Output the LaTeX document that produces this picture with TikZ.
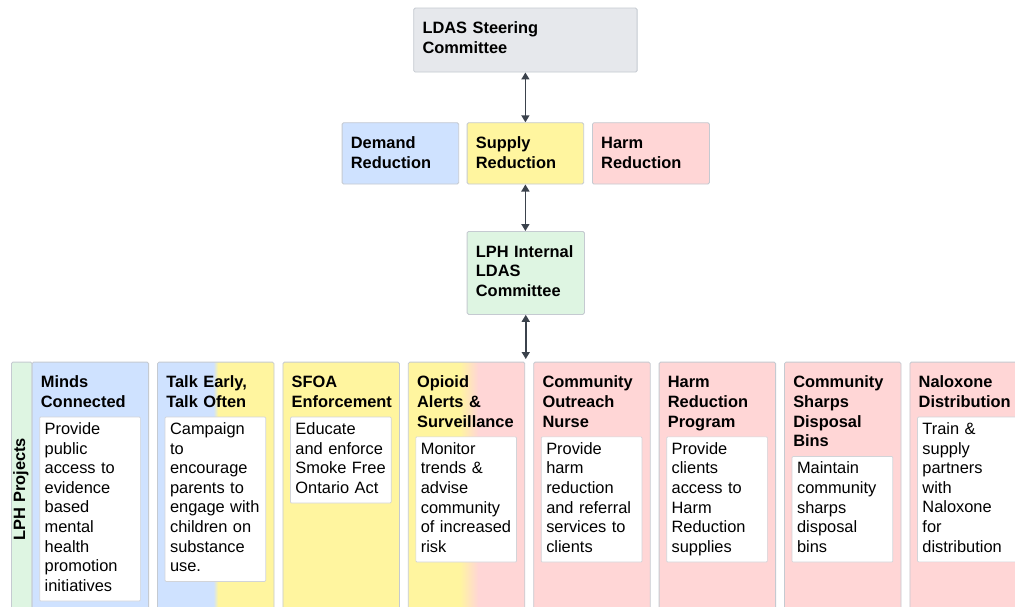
\documentclass[tikz,border=0pt]{standalone}
\usepackage{fontspec}
\setmainfont{Liberation Sans}
\usetikzlibrary{arrows.meta}
\definecolor{cgray}{HTML}{E6E8EC}
\definecolor{cblue}{HTML}{CFE2FF}
\definecolor{cyellow}{HTML}{FFF59F}
\definecolor{cpink}{HTML}{FFD6D6}
\definecolor{cgreen}{HTML}{DEF5E2}
\definecolor{cborder}{HTML}{C5CAD1}
\definecolor{cwborder}{HTML}{D2D4D8}
\definecolor{carrow}{HTML}{3B424C}
\pgfdeclarehorizontalshading{talkgrad}{100bp}{color(0bp)=(cblue); color(49bp)=(cblue); color(51bp)=(cyellow); color(100bp)=(cyellow)}
\pgfdeclarehorizontalshading{opgrad}{100bp}{color(0bp)=(cyellow); color(47bp)=(cyellow); color(55bp)=(cpink); color(100bp)=(cpink)}
\newcommand\myfnt{\fontsize{16.4}{19.6}\selectfont}
\tikzset{
  box/.style={draw=cborder, line width=0.8pt, rounded corners=1.5pt, inner sep=0pt, anchor=north west},
  head/.style={font=\myfnt\bfseries, align=left, text width=200pt, inner sep=0pt, anchor=north west},
  body/.style={draw=cwborder, fill=white, line width=0.7pt, rounded corners=1pt, font=\myfnt, align=left,
    text width=90.7pt, inner xsep=5pt, inner ysep=3.8pt, anchor=north west},
  link/.style={draw=carrow, line width=1.5pt, {Triangle[length=7pt,width=8pt]}-{Triangle[length=7pt,width=8pt]}},
  col/.style={box, minimum width=116.5pt, minimum height=252pt},
}
\begin{document}
\begin{tikzpicture}[x=1pt,y=1pt]
\useasboundingbox (0,0) rectangle (1015,-607);
\clip (0,0) rectangle (1015,-607);
\fill[white] (0,0) rectangle (1015,-607);

% top hierarchy
\node[box, fill=cgray, minimum width=223.4pt, minimum height=64pt] (steer) at (413.3,-7.7) {};
\node[head] (steerT) at ([shift={(9,-12.2)}]steer.north west) {\strut LDAS Steering\\Committee};

\node[box, fill=cblue, minimum width=116.6pt, minimum height=61.4pt] (demand) at (341.7,-122.3) {};
\node[head] (demandT) at ([shift={(9,-12.2)}]demand.north west) {\strut Demand\\Reduction};
\node[box, fill=cyellow, minimum width=116.6pt, minimum height=61.4pt] (supply) at (466.7,-122.3) {};
\node[head] (supplyT) at ([shift={(9,-12.2)}]supply.north west) {\strut Supply\\Reduction};
\node[box, fill=cpink, minimum width=117pt, minimum height=61.4pt] (harm) at (592,-122.3) {};
\node[head] (harmT) at ([shift={(9,-12.2)}]harm.north west) {\strut Harm\\Reduction};

\node[box, fill=cgreen, minimum width=117.3pt, minimum height=83pt] (internal) at (466.7,-231) {};
\node[head] (internalT) at ([shift={(9,-12.2)}]internal.north west) {\strut LPH Internal\\LDAS\\Committee};

% projects lane
\node[box, fill=cgreen, minimum width=20.7pt, minimum height=252pt] (lane) at (11,-361.7) {};
\node[rotate=90, font=\myfnt\bfseries, inner sep=0pt] (laneT) at (20.8,-489) {LPH Projects};
\coordinate (projtop) at (525.5,-359);

% columns
\node[col, fill=cblue] (c1) at (31.7,-361.7) {};
\node[col, shading=talkgrad] (c2) at (157.1,-361.7) {};
\node[col, fill=cyellow] (c3) at (282.5,-361.7) {};
\node[col, shading=opgrad] (c4) at (407.9,-361.7) {};
\node[col, fill=cpink] (c5) at (533.3,-361.7) {};
\node[col, fill=cpink] (c6) at (658.7,-361.7) {};
\node[col, fill=cpink] (c7) at (784.1,-361.7) {};
\node[col, fill=cpink] (c8) at (909.5,-361.7) {};

\node[head] (t1) at ([shift={(9,-12.2)}]c1.north west) {\strut Minds\\Connected};
\node[head] (t2) at ([shift={(9,-12.2)}]c2.north west) {\strut Talk Early,\\Talk Often};
\node[head] (t3) at ([shift={(9,-12.2)}]c3.north west) {\strut SFOA\\Enforcement};
\node[head] (t4) at ([shift={(9,-12.2)}]c4.north west) {\strut Opioid\\Alerts \&\\Surveillance};
\node[head] (t5) at ([shift={(9,-12.2)}]c5.north west) {\strut Community\\Outreach\\Nurse};
\node[head] (t6) at ([shift={(9,-12.2)}]c6.north west) {\strut Harm\\Reduction\\Program};
\node[head] (t7) at ([shift={(9,-12.2)}]c7.north west) {\strut Community\\Sharps\\Disposal\\Bins};
\node[head] (t8) at ([shift={(9,-12.2)}]c8.north west) {\strut Naloxone\\Distribution};

\node[body] (b1) at ([shift={(7.6,-55)}]c1.north west) {\strut Provide\\public\\access to\\evidence\\based\\mental\\health\\promotion\\initiatives\strut};
\node[body] (b2) at ([shift={(7.6,-55)}]c2.north west) {\strut Campaign\\to\\encourage\\parents to\\engage with\\children on\\substance\\use.\strut};
\node[body] (b3) at ([shift={(7.6,-55)}]c3.north west) {\strut Educate\\and enforce\\Smoke Free\\Ontario Act\strut};
\node[body] (b4) at ([shift={(7.6,-74.8)}]c4.north west) {\strut Monitor\\trends \&\\advise\\community\\of increased\\risk\strut};
\node[body] (b5) at ([shift={(7.6,-74.8)}]c5.north west) {\strut Provide\\harm\\reduction\\and referral\\services to\\clients\strut};
\node[body] (b6) at ([shift={(7.6,-74.8)}]c6.north west) {\strut Provide\\clients\\access to\\Harm\\Reduction\\supplies\strut};
\node[body] (b7) at ([shift={(7.6,-94.4)}]c7.north west) {\strut Maintain\\community\\sharps\\disposal\\bins\strut};
\node[body] (b8) at ([shift={(7.6,-55)}]c8.north west) {\strut Train \&\\supply\\partners\\with\\Naloxone\\for\\distribution\strut};

% connectors
\draw[link] (steer.south) -- (supply.north);
\draw[link] (supply.south) -- (supply.south |- internal.north);
\draw[link] (internal.south) -- (internal.south |- projtop);
\end{tikzpicture}
\end{document}
